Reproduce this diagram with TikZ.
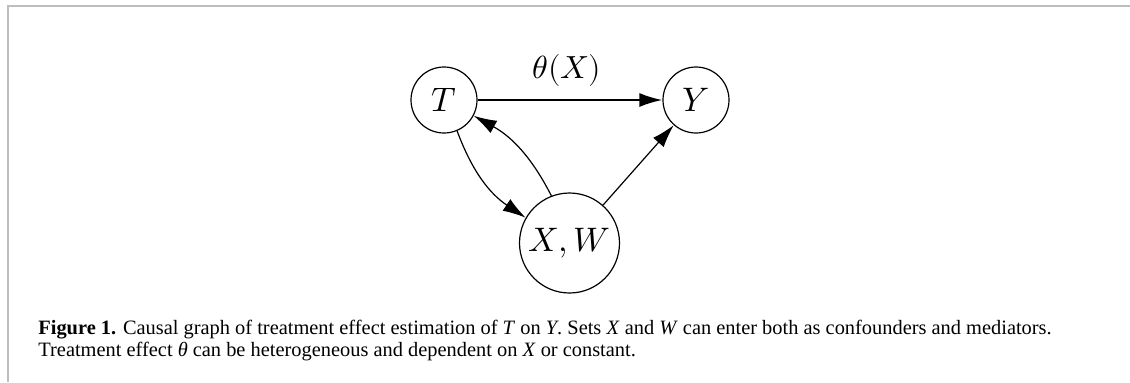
\documentclass[tikz,border=0pt]{standalone}
\usepackage{fontspec}
\setmainfont{Liberation Serif}
\usepackage{unicode-math}
\setmathfont{Latin Modern Math}
\usetikzlibrary{arrows.meta}
\definecolor{framegray}{RGB}{190,190,190}
\tikzset{
  var/.style={circle, draw, line width=0.6pt, inner sep=0pt, font=\fontsize{17}{20}\selectfont},
  edge/.style={line width=0.6pt, -{Latex[length=11.5pt,width=7pt]}},
  mainedge/.style={line width=1pt, -{Latex[length=11.5pt,width=7pt]}},
  frame/.style={draw=framegray, line width=1pt},
  caption/.style={anchor=north west, align=left, inner sep=0pt, font=\fontsize{10.2}{11}\selectfont}
}
\begin{document}
\begin{tikzpicture}[x=0.5pt, y=-0.5pt]
\useasboundingbox (0,0) rectangle (1130,382);
\draw[frame] (1130,5.8) -- (7.8,5.8) -- (7.8,382);
\node[var, minimum size=33pt] (T) at (444,100) {$T$};
\node[var, minimum size=33pt] (Y) at (696,100) {$Y$};
\node[var, minimum size=50pt] (XW) at (569.5,243) {$X,W$};
\draw[mainedge] (T) -- (Y);
\node[font=\fontsize{16}{19}\selectfont, anchor=base] (theta) at (567,78) {$\theta(X)$};
\draw[edge] (T.-67) to[bend right=18] (XW.150);
\draw[edge] (XW.111) to[bend right=17] (T.-28);
\draw[edge] (XW) -- (Y);
\node[caption] (cap) at (38,320) {\textbf{Figure 1.} Causal graph of treatment effect estimation of \textit{T} on \textit{Y}. Sets \textit{X} and \textit{W} can enter both as confounders and mediators.\\Treatment effect \textit{θ} can be heterogeneous and dependent on \textit{X} or constant.};
\end{tikzpicture}
\end{document}
